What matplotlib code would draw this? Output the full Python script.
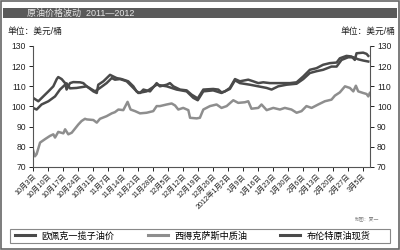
import matplotlib
matplotlib.use("Agg")
import matplotlib.pyplot as plt
from matplotlib.patches import Rectangle
from matplotlib.lines import Line2D

plt.rcParams['font.family'] = ['Liberation Sans', 'Noto Sans CJK SC', 'DejaVu Sans']

# --------------------------
# DATA (days counted from 2011-10-03)
# --------------------------
opec_days = [0, 1.7, 4, 7.2, 10.3, 12.6, 14.2, 15.7, 17.3, 20.4, 25.1, 29, 31.3, 34.4,
             36.8, 38.3, 40.7, 43.8, 46.9, 49.2, 53.1, 57.8, 62.5, 67.1, 71.8, 74.9, 77,
             79.6, 84.2, 88.1, 92, 94.4, 96.7, 101.4, 105.3, 109.2, 111.5, 114.6, 118.5,
             123.2, 126.3, 129.4, 132.5, 135.6, 139.5, 141.9, 144.2, 147.3, 149.7, 152,
             154.3, 156.7]
opec_vals = [99.3, 98.5, 101, 102.6, 105, 108.4, 110, 111.5, 109, 109.2, 110, 107.5, 109.2, 111.6,
             114.1, 113.3, 113.6, 112.5, 109.2, 106.7, 107.5, 110.8, 110, 108.4, 107.5, 104.3, 103.1,
             107.5, 108, 106.7, 108.7, 113, 111.6, 110.8, 110, 109.2, 108.4, 110, 110.8,
             111.3, 113.6, 116.6, 117.5, 118.2, 119.8, 119.8, 123.1, 124.4, 124.4, 123.4,
             122.8, 122.3]

wti_days = [0, 0.9, 1.7, 3.3, 5.6, 7.9, 9.5, 10.3, 11.8, 14.2, 15, 16.5, 18.1, 21.2, 22.7,
            24.3, 25.1, 28.2, 29.8, 31.3, 34.4, 36.8, 38.3, 39.9, 42.2, 44.2, 45.6, 47.7, 50,
            53.1, 56.2, 57.8, 59.3, 62.5, 64.8, 66.4, 67.9, 70.2, 72.6, 73.4, 76.5, 78, 79.6,
            82.7, 85.8, 88.1, 90.5, 93.6, 95.9, 99, 100.6, 102.1, 105.3, 106.8, 109.2, 112.3,
            115.4, 117.7, 120.8, 123.2, 125.5, 127.8, 130.2, 133.3, 136.4, 139.5, 141.1, 143.4,
            145.8, 148.1, 149.7, 150.9, 152, 154.3, 155.9, 156.7, 157.4]
wti_vals = [78.5, 75.3, 76.4, 82.1, 83.8, 85.4, 86.2, 84.6, 87.4, 86.7, 88.7, 86.2, 87, 91.1, 92.8,
            93.9, 93.6, 93.3, 92, 93.9, 95.2, 96.6, 97.2, 98.5, 98.2, 102.3, 98.5, 97.7, 96.6,
            96.9, 97.7, 100.2, 100.2, 101, 101.5, 100.5, 98.5, 99.3, 98.2, 94.4, 94.1, 94.4, 98.5,
            100.2, 101, 99.3, 100.2, 103.1, 101.8, 102.1, 102.6, 98.9, 99.3, 101, 98.2, 99.3,
            98.5, 99.3, 98.5, 96.9, 97.7, 100.2, 99.3, 101, 102.6, 103.4, 105.4, 107,
            110, 109.2, 107.5, 110.3, 107.5, 106.7, 106.2, 105, 106.7]

brent_days = [0, 2.5, 4.8, 7.2, 9.5, 11.1, 11.8, 13.4, 15, 15.7, 17.3, 18.8, 22, 23.5, 25.1,
              28.2, 29.8, 30.5, 32.9, 36, 37.5, 39.1, 41.4, 44.5, 46.9, 48.4, 50, 51.6, 54.7,
              57.8, 59.3, 62.5, 64, 65.6, 68.7, 71.8, 74.1, 77, 79.6, 84.2, 86.6, 88.1, 89.7,
              92, 94.4, 96.7, 100.6, 102.9, 105.3, 107.6, 110.7, 113.8, 116.9, 120.1, 123.2,
              126.3, 129.4, 132.5, 135.6, 138.7, 141.9, 143.4, 146.5, 148.9, 150.4, 151.2,
              154.3, 155.9, 156.7]
brent_vals = [104.3, 102.6, 105, 107.5, 110, 113.6, 114.6, 113.6, 111.6, 108.4, 111.6, 112.1, 112, 111.6, 110,
              107.5, 106.7, 110.8, 112.5, 115.7, 114.9, 114.1, 113.6, 112.5, 110, 107.5, 106.7, 108.4, 107.5,
              111.6, 110, 110.8, 111.6, 110, 108.4, 108, 105.9, 104, 108.4, 108.7, 108.4, 107, 107.5,
              109.2, 113.6, 112.5, 113.3, 112.5, 111.6, 112, 111.6, 111.6, 111.6, 111.6, 112,
              114.9, 118.2, 119, 120.7, 121.5, 121.8, 123.9, 125.1, 124.8, 123.1, 126.4,
              126.7, 126.1, 125.1]

tick_days = list(range(0, 155, 7))
tick_labels = ["10月3日", "10月10日", "10月17日", "10月24日", "10月31日", "11月7日",
               "11月14日", "11月21日", "11月28日", "12月5日", "12月12日", "12月19日",
               "12月26日", "2012年1月2日", "1月9日", "1月16日", "1月23日", "1月30日",
               "2月6日", "2月13日", "2月20日", "2月27日", "3月5日"]
y_ticks = [70, 80, 90, 100, 110, 120, 130]

DARK = "#4a4a4a"
LIGHT = "#8e8e8e"

# --------------------------
# FIGURE
# --------------------------
fig = plt.figure(figsize=(4, 2.5), dpi=100)
fig.patches.append(Rectangle((0.003, 0.004), 0.994, 0.992, transform=fig.transFigure,
                             fill=False, edgecolor="#666666", linewidth=1.2))
fig.patches.append(Rectangle((3 / 400, 1 - 18 / 250), 394 / 400, 10 / 250, transform=fig.transFigure,
                             facecolor="#5a5a5a", edgecolor="none"))
fig.text(27 / 400, 1 - 13 / 250, "原油价格波动  2011—2012", color="#e8e8e8", fontsize=6.5,
         va="center", ha="left")
fig.text(8 / 400, 1 - 31 / 250, "单位：美元/桶", fontsize=6.3, va="center", ha="left", color="#222222")
fig.text(395 / 400, 1 - 31 / 250, "单位：美元/桶", fontsize=6.3, va="center", ha="right", color="#222222")
fig.text(355 / 400, 1 - 219 / 250, "制图：夏一", fontsize=3.5, va="center", ha="left", color="#888888")

ax = fig.add_axes([33 / 400, 1 - 167 / 250, 337 / 400, 121 / 250])
ax.plot(wti_days, wti_vals, color=LIGHT, lw=1.8, solid_joinstyle="round")
ax.plot(opec_days, opec_vals, color=DARK, lw=1.8, solid_joinstyle="round")
ax.plot(brent_days, brent_vals, color=DARK, lw=1.8, solid_joinstyle="round")

ax.set_xlim(0, 157.5)
ax.set_ylim(70, 130)
ax.set_yticks(y_ticks)
ax.set_xticks(tick_days)
ax.set_xticklabels(tick_labels, rotation=45, ha="right", rotation_mode="anchor", fontsize=5.2)
ax.tick_params(axis="y", labelsize=6.2, length=3, width=0.7, direction="out", pad=2,
               right=True, labelright=True, colors="#222222")
ax.tick_params(axis="x", length=3, width=0.7, direction="out", pad=1.5, colors="#222222")
ax.spines["top"].set_visible(False)
for s in ["left", "right", "bottom"]:
    ax.spines[s].set_color("#555555")
    ax.spines[s].set_linewidth(0.8)

# --------------------------
# LEGEND
# --------------------------
fig.patches.append(Rectangle((10 / 400, 1 - 243 / 250), 380 / 400, 14 / 250, transform=fig.transFigure,
                             fill=False, edgecolor="#888888", linewidth=0.8))
handles = [Line2D([], [], color=DARK, lw=2.2),
           Line2D([], [], color=LIGHT, lw=2.2),
           Line2D([], [], color=DARK, lw=2.2)]
names = ["欧佩克一揽子油价", "西得克萨斯中质油", "布伦特原油现货"]
leg = fig.legend(handles, names, ncol=3, loc="center left",
                 bbox_to_anchor=(15 / 400, 1 - 236 / 250),
                 frameon=False, fontsize=6.6, handlelength=2.2,
                 handletextpad=0.7, columnspacing=3.6, borderpad=0, borderaxespad=0)

fig.savefig("out.png", dpi=100)
